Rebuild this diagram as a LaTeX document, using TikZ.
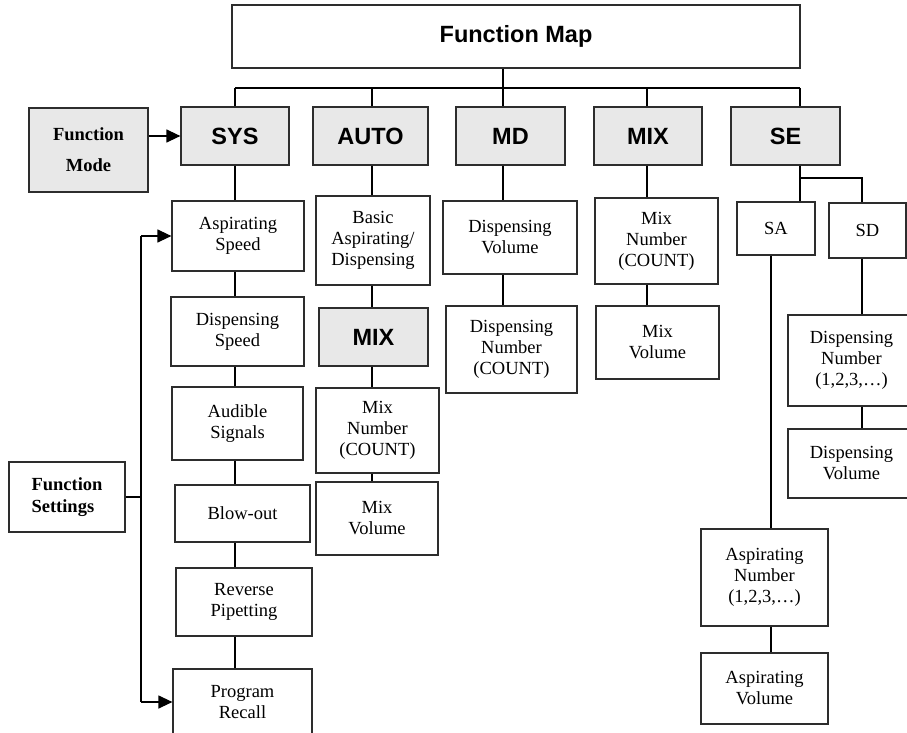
\documentclass[tikz,border=0pt]{standalone}
\usepackage{fontspec}
\setmainfont{Liberation Serif}
\setsansfont{Liberation Sans}
\usetikzlibrary{arrows.meta}
\definecolor{boxgray}{RGB}{232,232,232}
\definecolor{edge}{RGB}{45,45,45}
\tikzset{
  box/.style={draw=edge, line width=1.2pt, fill=white, align=center, inner sep=0pt,
    font=\fontsize{18.5}{21}\selectfont},
  graybox/.style={box, fill=boxgray},
  head/.style={font=\fontsize{23.5}{28}\selectfont\sffamily\bfseries},
  link/.style={line width=1.2pt, draw=black},
  arr/.style={link, -{Triangle[length=14pt,width=13pt]}}
}
\begin{document}
\begin{tikzpicture}[x=1pt,y=-1pt]
\useasboundingbox (0,0) rectangle (907,733);
\clip (0,0) rectangle (907,733);
\fill[white] (0,0) rectangle (907,733);

% top
\node[box, head, minimum width=568pt, minimum height=63pt] (fmap) at (516,36.5) {Function Map};
\node[graybox, minimum width=119pt, minimum height=84pt,
  font=\fontsize{18.5}{31}\selectfont\bfseries] (fmode) at (88.5,150) {Function\\Mode};

\node[graybox, head, minimum width=108pt, minimum height=58pt] (sys) at (235,136) {SYS};
\node[graybox, head, minimum width=115pt, minimum height=58pt] (auto) at (370.5,136) {AUTO};
\node[graybox, head, minimum width=109pt, minimum height=58pt] (md) at (510.5,136) {MD};
\node[graybox, head, minimum width=108pt, minimum height=58pt] (mix) at (648,136) {MIX};
\node[graybox, head, minimum width=109pt, minimum height=58pt] (se) at (785.5,136) {SE};

% SYS column
\node[box, minimum width=132pt, minimum height=70pt] (as) at (238,236) {Aspirating\\Speed};
\node[box, minimum width=133pt, minimum height=69pt] (ds) at (237.5,331.5) {Dispensing\\Speed};
\node[box, minimum width=131pt, minimum height=73pt] (au) at (237.5,423.5) {Audible\\Signals};
\node[box, minimum width=135pt, minimum height=57pt] (bo) at (242.5,513.5) {Blow-out};
\node[box, minimum width=136pt, minimum height=68pt] (rp) at (244,602) {Reverse\\Pipetting};
\node[box, minimum width=139pt, minimum height=66pt] (pr) at (242.5,702) {Program\\Recall};

\node[box, minimum width=116pt, minimum height=70pt, align=left,
  font=\fontsize{18.5}{22}\selectfont\bfseries] (fs) at (67,497) {Function\\Settings};

% AUTO column
\node[box, minimum width=114pt, minimum height=89pt] (bad) at (373,240.5) {Basic\\Aspirating/\\Dispensing};
\node[graybox, head, minimum width=109pt, minimum height=58pt] (amix) at (373.5,337) {MIX};
\node[box, minimum width=123pt, minimum height=85pt] (amn) at (377.5,430.5) {Mix\\Number\\(COUNT)};
\node[box, minimum width=122pt, minimum height=73pt] (amv) at (377,518.5) {Mix\\Volume};

% MD column
\node[box, minimum width=134pt, minimum height=73pt] (mdv) at (510,237.5) {Dispensing\\Volume};
\node[box, minimum width=131pt, minimum height=87pt] (mdn) at (511.5,349.5) {Dispensing\\Number\\(COUNT)};

% MIX column
\node[box, minimum width=123pt, minimum height=86pt] (xmn) at (656.5,241) {Mix\\Number\\(COUNT)};
\node[box, minimum width=123pt, minimum height=73pt] (xmv) at (657.5,342.5) {Mix\\Volume};

% SE column
\node[box, minimum width=78pt, minimum height=53pt] (sa) at (776,228.5) {SA};
\node[box, minimum width=77pt, minimum height=55pt] (sd) at (867.5,230.5) {SD};
\node[box, minimum width=127pt, minimum height=97pt] (asn) at (764.5,577.5) {Aspirating\\Number\\(1,2,3,…)};
\node[box, minimum width=127pt, minimum height=71pt] (asv) at (764.5,688.5) {Aspirating\\Volume};
\node[box, minimum width=127pt, minimum height=91pt] (sdn) at (851.5,360.5) {Dispensing\\Number\\(1,2,3,…)};
\node[box, minimum width=127pt, minimum height=69pt] (sdv) at (851.5,463.5) {Dispensing\\Volume};

% stem x positions
\coordinate (xsys) at (235,0);
\coordinate (xauto) at (372,0);
\coordinate (xmd) at (503,0);
\coordinate (xmix) at (647,0);
\coordinate (xse) at (800,0);
\coordinate (xsa) at (771,0);
\coordinate (xsd) at (862,0);
\coordinate (bus) at (0,88);
\coordinate (sebr) at (0,178);
\coordinate (xfs) at (141,0);

% top bus
\draw[link] (fmap.south -| xmd) -- (bus -| xmd);
\draw[link] (bus -| xsys) -- (bus -| xse);
\draw[link] (bus -| xsys) -- (sys.north -| xsys);
\draw[link] (bus -| xauto) -- (auto.north -| xauto);
\draw[link] (bus -| xmd) -- (md.north -| xmd);
\draw[link] (bus -| xmix) -- (mix.north -| xmix);
\draw[link] (bus -| xse) -- (se.north -| xse);

\draw[arr] (fmode.east |- sys.west) -- (sys.west);

% SYS chain
\draw[link] (sys.south -| xsys) -- (as.north -| xsys);
\draw[link] (as.south -| xsys) -- (ds.north -| xsys);
\draw[link] (ds.south -| xsys) -- (au.north -| xsys);
\draw[link] (au.south -| xsys) -- (bo.north -| xsys);
\draw[link] (bo.south -| xsys) -- (rp.north -| xsys);
\draw[link] (rp.south -| xsys) -- (pr.north -| xsys);

% Function settings
\draw[link] (fs.east) -- (fs.east -| xfs);
\draw[link] (as.west -| xfs) -- (pr.west -| xfs);
\draw[arr] (as.west -| xfs) -- (as.west);
\draw[arr] (pr.west -| xfs) -- (pr.west);

% AUTO chain
\draw[link] (auto.south -| xauto) -- (bad.north -| xauto);
\draw[link] (bad.south -| xauto) -- (amix.north -| xauto);
\draw[link] (amix.south -| xauto) -- (amn.north -| xauto);
\draw[link] (amn.south -| xauto) -- (amv.north -| xauto);

% MD chain
\draw[link] (md.south -| xmd) -- (mdv.north -| xmd);
\draw[link] (mdv.south -| xmd) -- (mdn.north -| xmd);

% MIX chain
\draw[link] (mix.south -| xmix) -- (xmn.north -| xmix);
\draw[link] (xmn.south -| xmix) -- (xmv.north -| xmix);

% SE
\draw[link] (se.south -| xse) -- (sa.north -| xse);
\draw[link] (sebr -| xse) -- (sebr -| xsd) -- (sd.north -| xsd);
\draw[link] (sa.south -| xsa) -- (asn.north -| xsa);
\draw[link] (asn.south -| xsa) -- (asv.north -| xsa);
\draw[link] (sd.south -| xsd) -- (sdn.north -| xsd);
\draw[link] (sdn.south -| xsd) -- (sdv.north -| xsd);
\end{tikzpicture}
\end{document}
